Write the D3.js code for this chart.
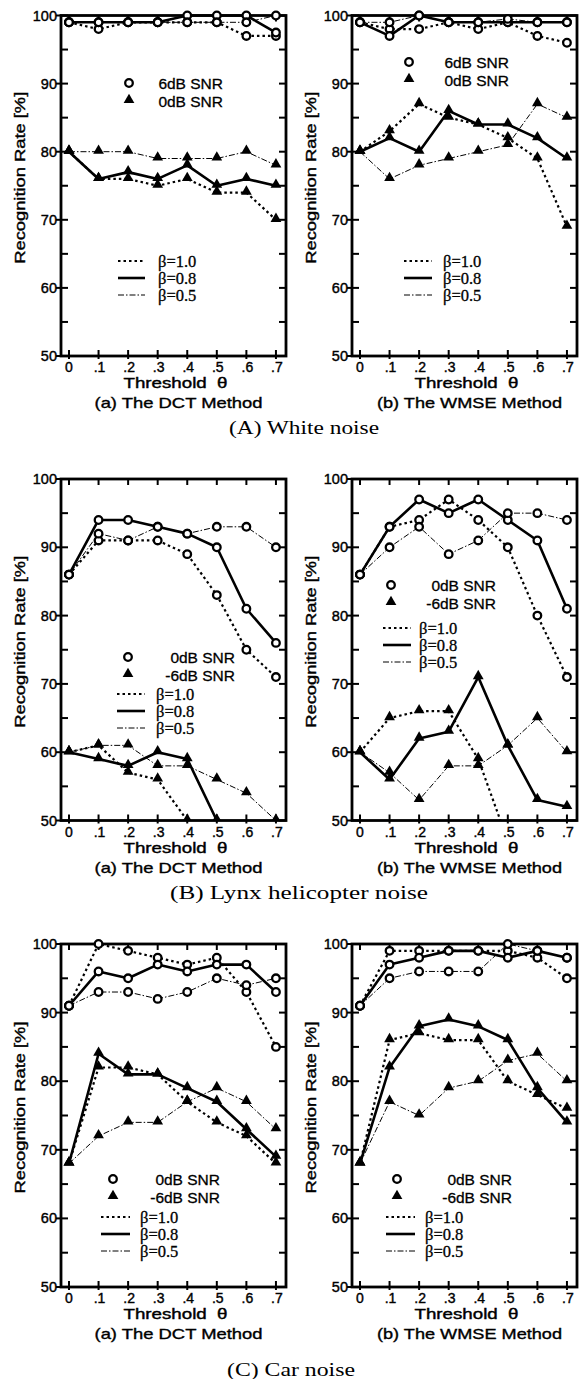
<!DOCTYPE html>
<html><head><meta charset="utf-8">
<script src="https://cdn.jsdelivr.net/npm/d3@7"></script>
<style>body{margin:0;background:#fff} svg{display:block} text{white-space:pre}</style>
</head><body>
<script>
// ---------- data ----------
const thresholds = [0, 0.1, 0.2, 0.3, 0.4, 0.5, 0.6, 0.7];
const xTickLabels = ["0", ".1", ".2", ".3", ".4", ".5", ".6", ".7"];
const yTickValues = [50, 60, 70, 80, 90, 100];
const betaLabels = ["β=1.0", "β=0.8", "β=0.5"];
const methodTitles = ["(a) The DCT Method", "(b) The WMSE Method"];
const noiseTitles = ["(A) White noise", "(B) Lynx helicopter noise", "(C) Car noise"];
const snrLabelsA = ["6dB SNR", "0dB SNR"];
const snrLabelsBC = ["0dB SNR", "-6dB SNR"];
const xTitle = "Threshold  θ";
const yTitle = "Recognition Rate [%]";

// (A) White noise, DCT
const whiteDctHi_b10 = [99, 98, 99, 99, 99, 99, 97, 97];
const whiteDctHi_b08 = [99, 99, 99, 99, 100, 100, 100, 97.5];
const whiteDctHi_b05 = [99, 99, 99, 99, 99, 99, 99, 100];
const whiteDctLo_b10 = [80, 76, 76, 75, 76, 74, 74, 70];
const whiteDctLo_b08 = [80, 76, 77, 76, 78, 75, 76, 75];
const whiteDctLo_b05 = [80, 80, 80, 79, 79, 79, 80, 78];
// (A) White noise, WMSE
const whiteWmseHi_b10 = [99, 98, 98, 99, 98, 99, 97, 96];
const whiteWmseHi_b08 = [99, 97, 100, 99, 99, 99, 99, 99];
const whiteWmseHi_b05 = [99, 99, 100, 99, 99, 99.5, 99, 99];
const whiteWmseLo_b10 = [80, 83, 87, 85, 84, 82, 79, 69];
const whiteWmseLo_b08 = [80, 82, 80, 86, 84, 84, 82, 79];
const whiteWmseLo_b05 = [80, 76, 78, 79, 80, 81, 87, 85];
// (B) Lynx helicopter noise, DCT
const lynxDctHi_b10 = [86, 91, 91, 91, 89, 83, 75, 71];
const lynxDctHi_b08 = [86, 94, 94, 93, 92, 90, 81, 76];
const lynxDctHi_b05 = [86, 92, 91, 93, 92, 93, 93, 90];
const lynxDctLo_b10 = [60, 61, 57, 56, 50, null, null, null];
const lynxDctLo_b08 = [60, 59, 58, 60, 59, 50, null, null];
const lynxDctLo_b05 = [60, 61, 61, 58, 58, 56, 54, 50];
// (B) Lynx helicopter noise, WMSE
const lynxWmseHi_b10 = [86, 93, 94, 97, 94, 90, 80, 71];
const lynxWmseHi_b08 = [86, 93, 97, 95, 97, 94, 91, 81];
const lynxWmseHi_b05 = [86, 90, 93, 89, 91, 95, 95, 94];
const lynxWmseLo_b10 = [60, 65, 66, 66, 59, 47, null, null];
const lynxWmseLo_b08 = [60, 56, 62, 63, 71, 61, 53, 52];
const lynxWmseLo_b05 = [60, 57, 53, 58, 58, 61, 65, 60];
// (C) Car noise, DCT
const carDctHi_b10 = [91, 100, 99, 98, 97, 98, 93, 85];
const carDctHi_b08 = [91, 96, 95, 97, 96, 97, 97, 93];
const carDctHi_b05 = [91, 93, 93, 92, 93, 95, 94, 95];
const carDctLo_b10 = [68, 82, 82, 81, 77, 74, 72, 68];
const carDctLo_b08 = [68, 84, 81, 81, 79, 77, 73, 69];
const carDctLo_b05 = [68, 72, 74, 74, 77, 79, 77, 73];
// (C) Car noise, WMSE
const carWmseHi_b10 = [91, 99, 99, 99, 99, 99, 98, 95];
const carWmseHi_b08 = [91, 97, 98, 99, 99, 98, 99, 98];
const carWmseHi_b05 = [91, 95, 96, 96, 96, 100, 99, 98];
const carWmseLo_b10 = [68, 86, 87, 86, 86, 80, 78, 76];
const carWmseLo_b08 = [68, 82, 88, 89, 88, 86, 79, 74];
const carWmseLo_b05 = [68, 77, 75, 79, 80, 83, 84, 80];

// ---------- layout ----------
const W = 582, H = 1379;
const svg = d3.select("body").append("svg").attr("width", W).attr("height", H);

const cols = [{x0: 61, x1: 286}, {x0: 352, x1: 577}];
const rows = [
  {y0: 15.5, y1: 356},
  {y0: 479, y1: 820.5},
  {y0: 944, y1: 1287}
];

const panels = [
  {r: 0, c: 0, hi: [whiteDctHi_b10, whiteDctHi_b08, whiteDctHi_b05], lo: [whiteDctLo_b10, whiteDctLo_b08, whiteDctLo_b05], snr: snrLabelsA,
   snrPos: {mx: 129, y: 83, tx: 223}, betaPos: {lx0: 118, lx1: 145, tx: 158, y: 261}},
  {r: 0, c: 1, hi: [whiteWmseHi_b10, whiteWmseHi_b08, whiteWmseHi_b05], lo: [whiteWmseLo_b10, whiteWmseLo_b08, whiteWmseLo_b05], snr: snrLabelsA,
   snrPos: {mx: 409, y: 62, tx: 509}, betaPos: {lx0: 404, lx1: 432, tx: 443, y: 261}},
  {r: 1, c: 0, hi: [lynxDctHi_b10, lynxDctHi_b08, lynxDctHi_b05], lo: [lynxDctLo_b10, lynxDctLo_b08, lynxDctLo_b05], snr: snrLabelsBC,
   snrPos: {mx: 128, y: 657, tx: 235}, betaPos: {lx0: 117, lx1: 145, tx: 156, y: 694}},
  {r: 1, c: 1, hi: [lynxWmseHi_b10, lynxWmseHi_b08, lynxWmseHi_b05], lo: [lynxWmseLo_b10, lynxWmseLo_b08, lynxWmseLo_b05], snr: snrLabelsBC,
   snrPos: {mx: 391, y: 585, tx: 496}, betaPos: {lx0: 383, lx1: 411, tx: 419, y: 628}},
  {r: 2, c: 0, hi: [carDctHi_b10, carDctHi_b08, carDctHi_b05], lo: [carDctLo_b10, carDctLo_b08, carDctLo_b05], snr: snrLabelsBC,
   snrPos: {mx: 113, y: 1179, tx: 220}, betaPos: {lx0: 101, lx1: 130, tx: 140, y: 1217}},
  {r: 2, c: 1, hi: [carWmseHi_b10, carWmseHi_b08, carWmseHi_b05], lo: [carWmseLo_b10, carWmseLo_b08, carWmseLo_b05], snr: snrLabelsBC,
   snrPos: {mx: 397, y: 1179, tx: 512}, betaPos: {lx0: 386, lx1: 415, tx: 425, y: 1217}}
];

const captionPos = [{x: 304, w: 150}, {x: 299, w: 258}, {x: 291, w: 128}];

const lineStyles = [
  {w: 2.2, dash: "2.5,3"},      // beta 1.0
  {w: 2.6, dash: null},         // beta 0.8
  {w: 1.0, dash: "6,2,1.5,2"}   // beta 0.5
];
const sansFont = "'Liberation Sans', Arial, sans-serif";
const serifFont = "'Liberation Serif', 'Times New Roman', serif";
const triangle = d3.symbol().type(d3.symbolTriangle).size(50);

panels.forEach((p, i) => {
  const col = cols[p.c], row = rows[p.r];
  const x = d3.scaleLinear().domain([-0.027, 0.734]).range([col.x0, col.x1]);
  const y = d3.scaleLinear().domain([50, 100]).range([row.y1, row.y0]);
  const g = svg.append("g");

  const clipId = "clip" + i;
  svg.append("clipPath").attr("id", clipId).append("rect")
    .attr("x", col.x0).attr("y", row.y0 - 6).attr("width", col.x1 - col.x0).attr("height", row.y1 - row.y0 + 6);

  // ticks: left & right (every 5), top & bottom (every 0.1)
  const yMinor = d3.range(50, 100.1, 5);
  yMinor.forEach(v => {
    const major = v % 10 === 0;
    g.append("line").attr("x1", col.x0 - (major ? 5 : 0)).attr("x2", col.x0 + 7)
      .attr("y1", y(v)).attr("y2", y(v)).attr("stroke", "#000").attr("stroke-width", 2);
    g.append("line").attr("x1", col.x1 - 7).attr("x2", col.x1)
      .attr("y1", y(v)).attr("y2", y(v)).attr("stroke", "#000").attr("stroke-width", 2);
  });
  thresholds.forEach(t => {
    g.append("line").attr("x1", x(t)).attr("x2", x(t)).attr("y1", row.y0).attr("y2", row.y0 + 6)
      .attr("stroke", "#000").attr("stroke-width", 2);
    g.append("line").attr("x1", x(t)).attr("x2", x(t)).attr("y1", row.y1 - 6).attr("y2", row.y1 + 3)
      .attr("stroke", "#000").attr("stroke-width", 2);
  });

  // y tick labels
  yTickValues.forEach(v => {
    g.append("text").attr("x", col.x0 - 4).attr("y", y(v) + 5).attr("text-anchor", "end")
      .attr("font-family", sansFont).attr("font-size", 14.5).attr("stroke", "#000").attr("stroke-width", 0.4)
      .text(v);
  });
  // x tick labels
  thresholds.forEach((t, k) => {
    g.append("text").attr("x", x(t) + (k === 0 ? 0 : 1)).attr("y", row.y1 + 16).attr("text-anchor", "middle")
      .attr("font-family", sansFont).attr("font-size", 14).attr("stroke", "#000").attr("stroke-width", 0.4)
      .text(xTickLabels[k]);
  });

  // frame
  g.append("rect").attr("x", col.x0).attr("y", row.y0).attr("width", col.x1 - col.x0).attr("height", row.y1 - row.y0)
    .attr("fill", "none").attr("stroke", "#000").attr("stroke-width", 2.8);

  // axis titles
  const cx = (col.x0 + col.x1) / 2 + 2;
  g.append("text").attr("x", cx).attr("y", row.y1 + 32).attr("text-anchor", "middle")
    .attr("font-family", sansFont).attr("font-size", 14.5).attr("stroke", "#000").attr("stroke-width", 0.4)
    .attr("textLength", 104).attr("lengthAdjust", "spacingAndGlyphs").text(xTitle);
  g.append("text").attr("x", cx + 3).attr("y", row.y1 + 52).attr("text-anchor", "middle")
    .attr("font-family", sansFont).attr("font-size", 14.5).attr("stroke", "#000").attr("stroke-width", 0.35)
    .attr("textLength", p.c === 0 ? 168 : 185).attr("lengthAdjust", "spacingAndGlyphs").text(methodTitles[p.c]);
  const ycx = (row.y0 + row.y1) / 2 - 8;
  const ytx = col.x0 - 36;
  g.append("text").attr("transform", `translate(${ytx},${ycx}) rotate(-90)`).attr("text-anchor", "middle")
    .attr("font-family", sansFont).attr("font-size", 15).attr("stroke", "#000").attr("stroke-width", 0.4)
    .attr("textLength", 172).attr("lengthAdjust", "spacingAndGlyphs").text(yTitle);

  // series lines
  const line = d3.line().defined(d => d[1] !== null).x(d => x(d[0])).y(d => y(d[1]));
  const plot = g.append("g").attr("clip-path", `url(#${clipId})`);
  [p.hi, p.lo].forEach(group => {
    group.forEach((vals, b) => {
      const pts = thresholds.map((t, k) => [t, vals[k]]);
      plot.append("path").datum(pts).attr("d", line).attr("fill", "none").attr("stroke", "#000")
        .attr("stroke-width", lineStyles[b].w).attr("stroke-dasharray", lineStyles[b].dash)
        .attr("stroke-linejoin", "round");
    });
  });
  // markers
  p.hi.forEach(vals => {
    thresholds.forEach((t, k) => {
      if (vals[k] === null || vals[k] < 50) return;
      plot.append("circle").attr("cx", x(t)).attr("cy", y(vals[k])).attr("r", 3.8)
        .attr("fill", "#fff").attr("stroke", "#000").attr("stroke-width", 2.3);
    });
  });
  p.lo.forEach(vals => {
    thresholds.forEach((t, k) => {
      if (vals[k] === null || vals[k] < 50) return;
      plot.append("path").attr("d", triangle).attr("transform", `translate(${x(t)},${y(vals[k]) - 1})`)
        .attr("fill", "#000");
    });
  });

  // SNR legend
  const sp = p.snrPos;
  g.append("circle").attr("cx", sp.mx).attr("cy", sp.y).attr("r", 3.8)
    .attr("fill", "#fff").attr("stroke", "#000").attr("stroke-width", 2.3);
  g.append("path").attr("d", triangle).attr("transform", `translate(${sp.mx},${sp.y + 18 - 1})`).attr("fill", "#000");
  p.snr.forEach((s, k) => {
    g.append("text").attr("x", sp.tx).attr("y", sp.y + k * 18 + 5.5).attr("text-anchor", "end")
      .attr("font-family", sansFont).attr("font-size", 15.5).attr("stroke", "#000").attr("stroke-width", 0.3)
      .text(s);
  });

  // beta legend
  const bp = p.betaPos;
  betaLabels.forEach((lab, b) => {
    const yy = bp.y + b * 17;
    g.append("line").attr("x1", bp.lx0).attr("x2", bp.lx1).attr("y1", yy).attr("y2", yy)
      .attr("stroke", "#000").attr("stroke-width", lineStyles[b].w).attr("stroke-dasharray", lineStyles[b].dash);
    g.append("text").attr("x", bp.tx).attr("y", yy + 5.5)
      .attr("font-family", serifFont).attr("font-size", 16.5).attr("stroke", "#000").attr("stroke-width", 0.3)
      .text(lab);
  });
});

// row captions
rows.forEach((row, r) => {
  svg.append("text").attr("x", captionPos[r].x).attr("y", row.y1 + (r === 2 ? 89 : 78)).attr("text-anchor", "middle")
    .attr("font-family", serifFont).attr("font-size", 19)
    .attr("textLength", captionPos[r].w).attr("lengthAdjust", "spacingAndGlyphs").text(noiseTitles[r]);
});
</script>
</body></html>
